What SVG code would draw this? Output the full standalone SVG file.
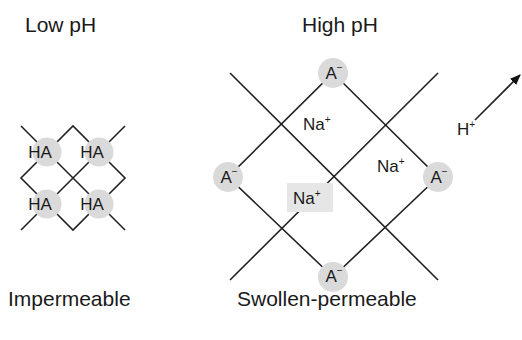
<svg xmlns="http://www.w3.org/2000/svg" width="522" height="340" viewBox="0 0 522 340">
<style>
.t{font-family:"Liberation Sans",Arial,sans-serif;fill:#1a1a1a}
.title{font-size:21px}
.lbl{font-size:17px}
.sup{font-size:10px}
.ln{stroke:#222;stroke-width:1.6;fill:none}
.c{fill:#dadada;stroke:none}
</style>
<defs>
<marker id="ah" viewBox="0 0 10 10" refX="9" refY="5" markerWidth="11" markerHeight="11" markerUnits="userSpaceOnUse" orient="auto">
<path d="M0,1 L10,5 L0,9 Z" fill="#111"/>
</marker>
</defs>
<rect width="522" height="340" fill="#fff"/>
<text class="t title" x="25" y="32">Low pH</text>
<text class="t title" x="302" y="32">High pH</text>
<text class="t title" x="8" y="306">Impermeable</text>
<text class="t title" x="237" y="306">Swollen-permeable</text>
<g id="connectors">
<line class="ln" x1="21" y1="126" x2="125" y2="230"/>
<line class="ln" x1="125" y1="126" x2="21" y2="230"/>
<polyline class="ln" points="47,152 73,126 99,152"/>
<polyline class="ln" points="47,152 21,178 47,204"/>
<polyline class="ln" points="99,152 125,178 99,204"/>
<polyline class="ln" points="47,204 73,230 99,204"/>
<line class="ln" x1="230" y1="73" x2="438" y2="280"/>
<line class="ln" x1="438" y1="73" x2="230" y2="280"/>
<polygon class="ln" points="333,73 438,177 333,277 228,177"/>
<line class="ln" x1="475" y1="120" x2="520" y2="75" marker-end="url(#ah)"/>
</g>
<g id="ha1"><circle class="c" cx="47" cy="152" r="14.5"/><text class="t lbl" x="40" y="158" text-anchor="middle">HA</text></g>
<g id="ha2"><circle class="c" cx="99" cy="152" r="14.5"/><text class="t lbl" x="92" y="158" text-anchor="middle">HA</text></g>
<g id="ha3"><circle class="c" cx="47" cy="204" r="14.5"/><text class="t lbl" x="40" y="210" text-anchor="middle">HA</text></g>
<g id="ha4"><circle class="c" cx="99" cy="204" r="14.5"/><text class="t lbl" x="92" y="210" text-anchor="middle">HA</text></g>
<g id="a_top"><circle class="c" cx="333" cy="73" r="15"/><text class="t lbl" x="334" y="79" text-anchor="middle">A<tspan class="sup" dy="-8">−</tspan></text></g>
<g id="a_left"><circle class="c" cx="228" cy="177" r="15"/><text class="t lbl" x="229" y="183" text-anchor="middle">A<tspan class="sup" dy="-8">−</tspan></text></g>
<g id="a_right"><circle class="c" cx="438" cy="177" r="15"/><text class="t lbl" x="439" y="183" text-anchor="middle">A<tspan class="sup" dy="-8">−</tspan></text></g>
<g id="a_bottom"><circle class="c" cx="333" cy="277" r="15"/><text class="t lbl" x="334" y="282" text-anchor="middle">A<tspan class="sup" dy="-8">−</tspan></text></g>
<g id="na1"><text class="t lbl" x="303" y="130">Na<tspan class="sup" dy="-7">+</tspan></text></g>
<g id="na2"><text class="t lbl" x="377" y="172">Na<tspan class="sup" dy="-7">+</tspan></text></g>
<g id="na3"><rect x="287" y="183" width="46" height="29" fill="#e6e6e6"/><text class="t lbl" x="293" y="204">Na<tspan class="sup" dy="-7">+</tspan></text></g>
<g id="hplus"><text class="t lbl" x="457" y="135">H<tspan class="sup" dy="-7">+</tspan></text></g>
</svg>
